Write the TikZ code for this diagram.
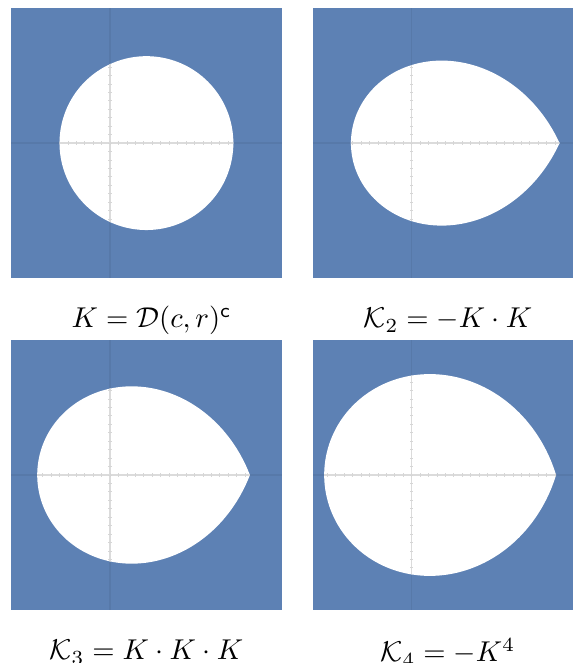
\documentclass[tikz,border=0pt]{standalone}
\usepackage{amsmath, amssymb}
\usepackage{tikz}
\usetikzlibrary{positioning}
\definecolor{regionblue}{RGB}{93,129,180}

\begin{document}
\begin{tikzpicture}[x=0.5177cm, y=0.5177cm,
    declare function={rho(\t)=0.86*cos(\t)+sqrt(2.06^2-(0.86*sin(\t))^2);},
    faintaxis/.style={black, opacity=0.06, line width=0.45pt},
    axisline/.style={black!14, line width=0.45pt},
    tickmark/.style={black!16, line width=0.3pt},
    caption/.style={font=\fontsize{10.2}{12}\selectfont, inner sep=1pt}]
  \useasboundingbox (0,0) rectangle (13.578,15.711);
  \clip (0,0) rectangle (13.578,15.711);
  % one panel per set: power n, sign of the product (0 or 180), origin, caption
  \foreach \n/\s/\ox/\oy/\cx/\lbl in {
      1/0/2.61/12.32/0.98/{$K=\mathcal{D}(c,r)^{\mathsf{c}}$},
      2/180/9.756/12.32/0.86/{$\mathcal{K}_2=-K\cdot K$},
      3/0/2.61/4.455/0.86/{$\mathcal{K}_3=K\cdot K\cdot K$},
      4/180/9.756/4.455/0.86/{$\mathcal{K}_4=-K^4$}}{
    \pgfmathsetmacro\dlo{180-180/\n}
    \pgfmathsetmacro\dhi{180+180/\n}
    \begin{scope}[shift={(\ox,\oy)}]
      \fill[regionblue] (-2.35,-3.2) rectangle (4.07,3.2);
      \draw[faintaxis] (-2.35,0) -- (4.07,0) (0,-3.2) -- (0,3.2);
      \fill[white, save path=\hole] plot[domain=\dlo:\dhi, samples=181, variable=\a]
        ({rho(\a)^\n*cos(\n*\a+\s)}, {rho(\a)^\n*sin(\n*\a+\s)}) -- cycle;
      % axes with ticks, seen inside the hole only
      \begin{scope}
        \clip[use path=\hole];
        \draw[axisline] (-2.35,0) -- (4.07,0);
        \draw[axisline] (0,-3.2) -- (0,3.2);
        \foreach \t in {-2.2,-2.0,...,4.0}
          \draw[tickmark] (\t,-0.04) -- (\t,0.04);
        \foreach \t in {-3.2,-3.0,...,3.2}
          \draw[tickmark] (-0.04,\t) -- (0.04,\t);
      \end{scope}
      \node[caption] (cap\n) at (\cx,-4.2) {\lbl};
    \end{scope}
  }
\end{tikzpicture}
\end{document}
